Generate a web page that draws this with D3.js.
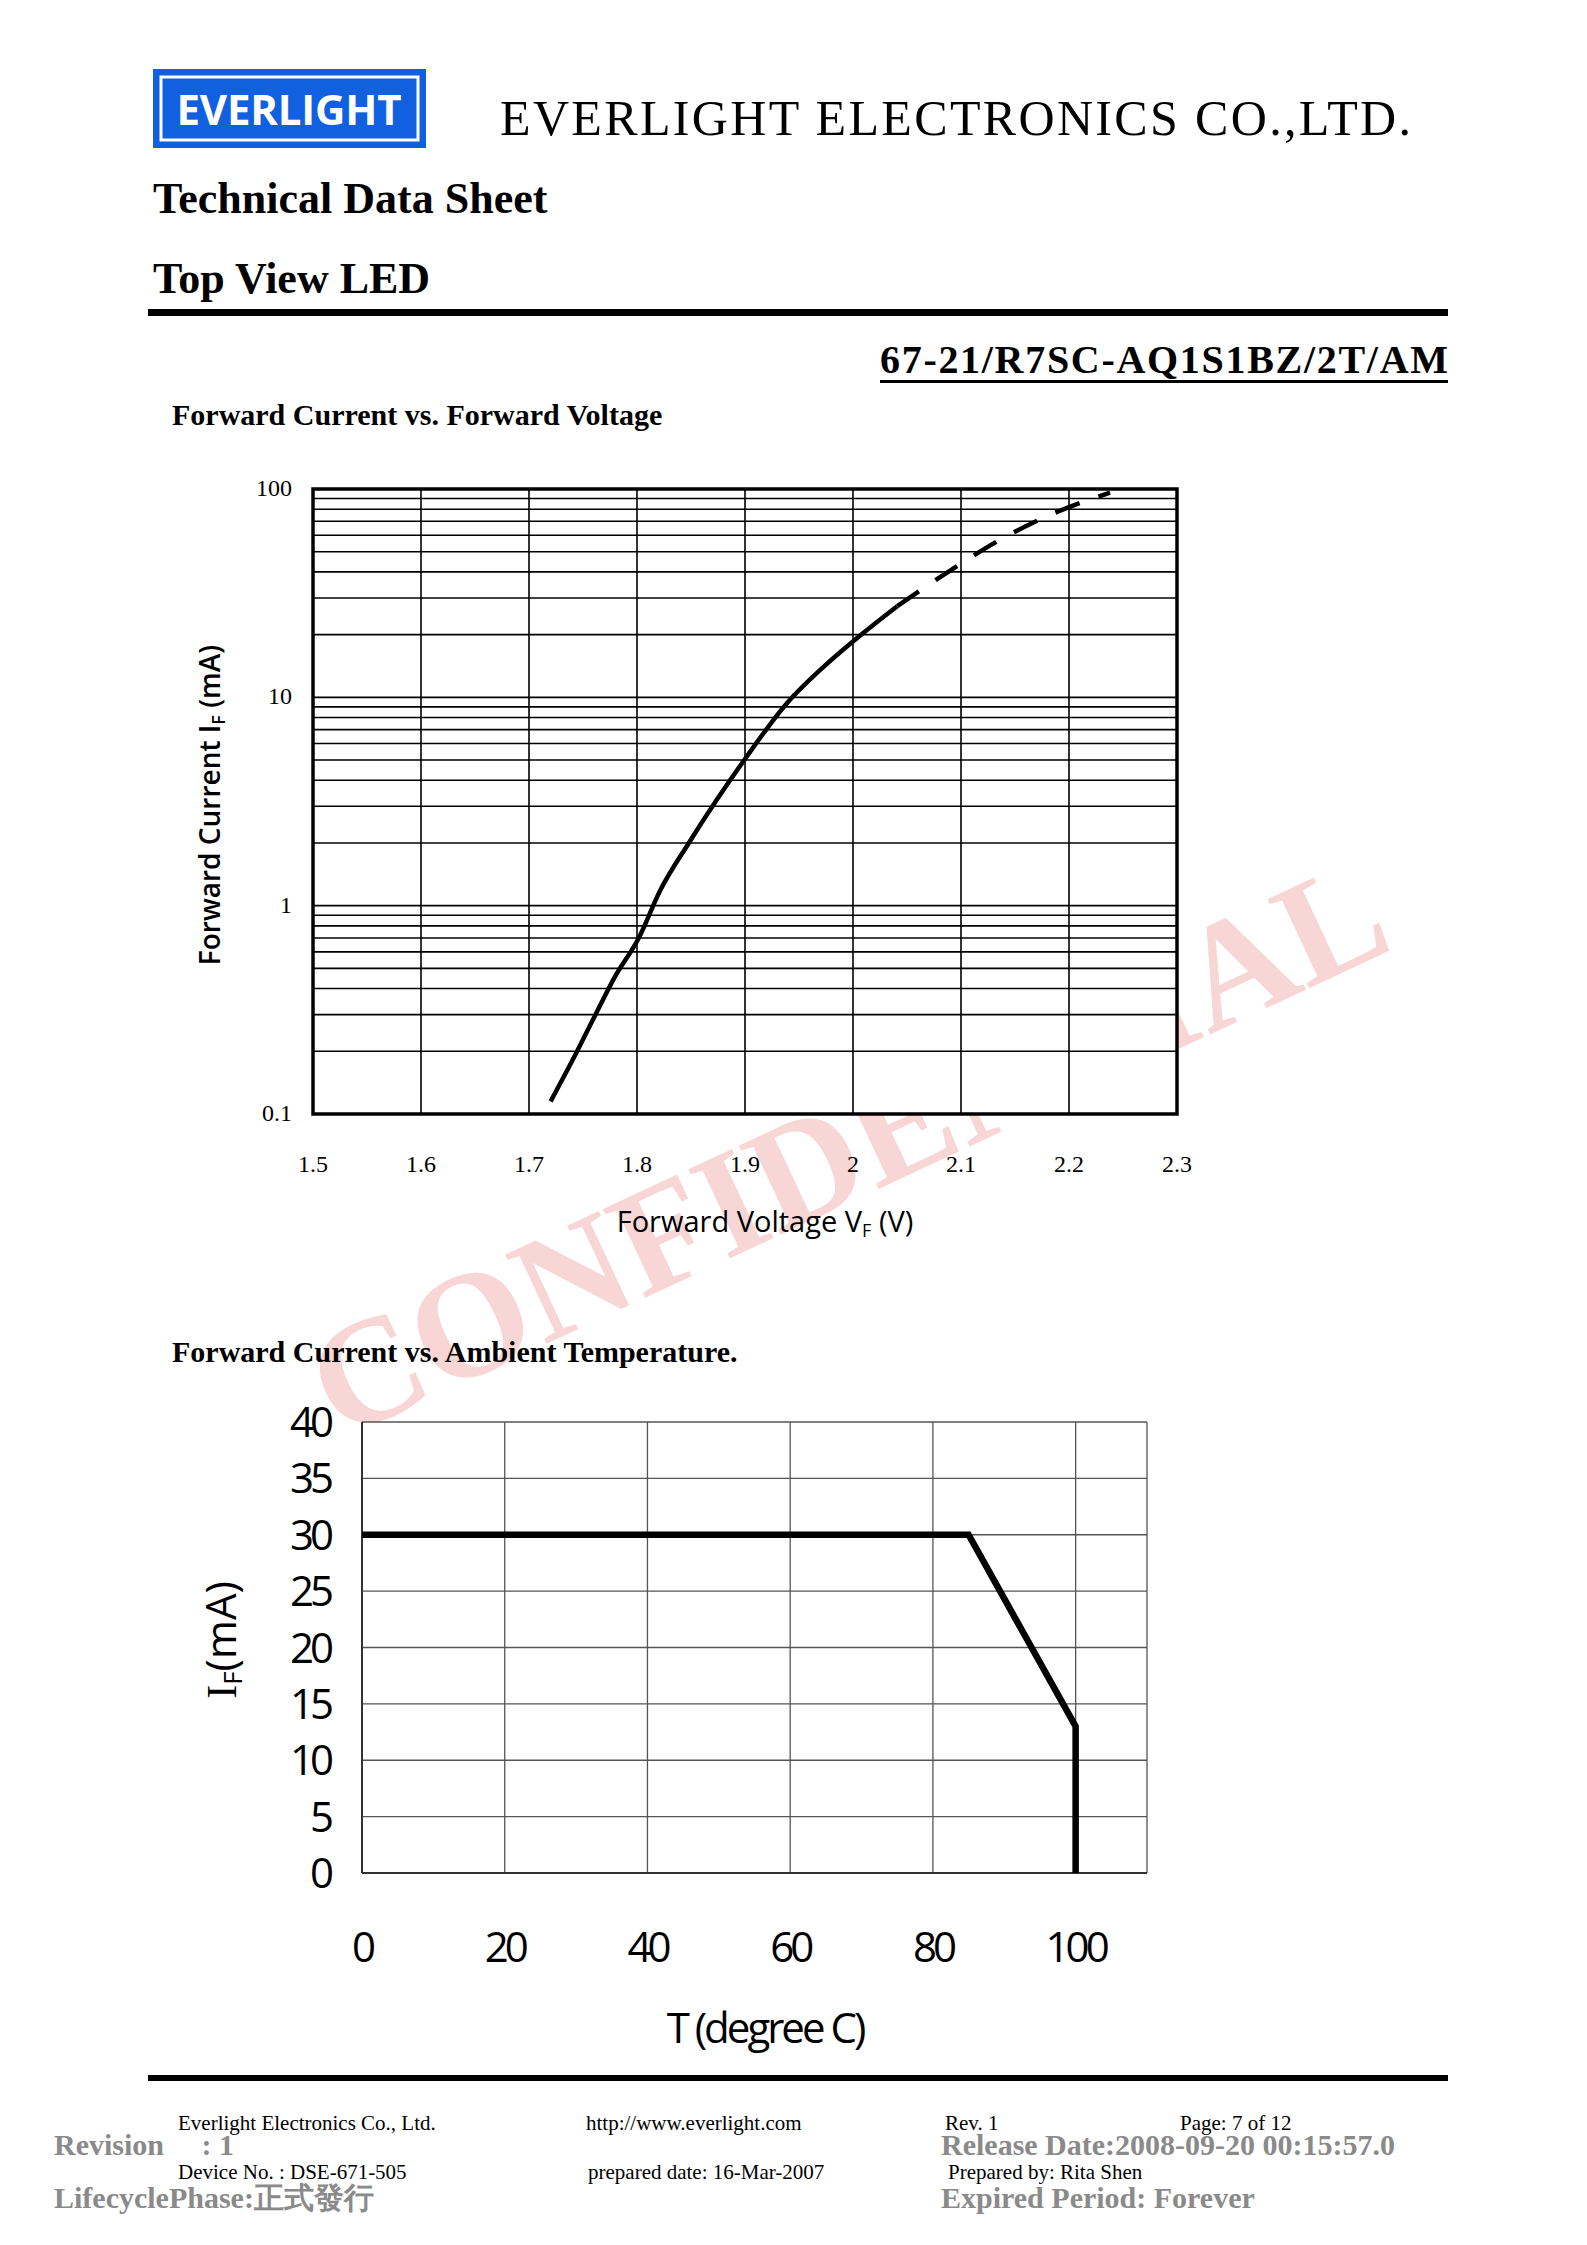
<!DOCTYPE html>
<html><head><meta charset="utf-8">
<script src="https://cdn.jsdelivr.net/npm/d3@7"></script>
<style>body{margin:0;background:#fff}</style>
</head><body>
<div id="page"></div>
<script>
// Forward current vs forward voltage (solid part then dashed extrapolation)
const vfSolid = [[1.72,0.115],[1.743,0.193],[1.762,0.303],[1.779,0.45],[1.802,0.705],[1.821,1.17],[1.848,2.0],[1.874,3.23],[1.9,5.06],[1.939,9.4],[1.972,13.9],[2.005,19.5],[2.041,27.4]];
const vfDashed = [[2.041,27.4],[2.09,40.6],[2.136,57],[2.189,77.6],[2.238,96]];
const vfTicks = [1.5,1.6,1.7,1.8,1.9,2,2.1,2.2,2.3];
const ifLogTicks = [0.1,1,10,100];
// Derating curve
const derate = [[0,30],[85,30],[100,13],[100,0]];
const tTicks = [0,20,40,60,80,100];
const ifTicks = [0,5,10,15,20,25,30,35,40];

const W = 1587, H = 2245;
const serif = "'Liberation Serif', 'Times New Roman', serif";
const sans = "'Open Sans', sans-serif";
const svg = d3.select("#page").append("svg").attr("width", W).attr("height", H);

// watermark
svg.append("text").attr("transform","translate(340,1440) rotate(-25)")
  .attr("font-family",serif).attr("font-weight","bold").attr("font-size",150)
  .attr("fill","#f9d6d6").text("CONFIDENTIAL");

// header
const logo = svg.append("g");
logo.append("rect").attr("x",153).attr("y",69).attr("width",273).attr("height",79).attr("fill","#1060e0");
logo.append("rect").attr("x",161).attr("y",77).attr("width",257).attr("height",63).attr("fill","none").attr("stroke","#fff").attr("stroke-width",3);
logo.append("text").attr("x",289).attr("y",125).attr("text-anchor","middle").attr("font-family",sans)
  .attr("font-weight","bold").attr("font-size",42).attr("fill","#fff").attr("textLength",225).text("EVERLIGHT");
svg.append("text").attr("x",500).attr("y",135).attr("font-family",serif).attr("font-size",50).attr("textLength",911).text("EVERLIGHT ELECTRONICS CO.,LTD.");
svg.append("text").attr("x",153).attr("y",213).attr("font-family",serif).attr("font-weight","bold").attr("font-size",44).text("Technical Data Sheet");
svg.append("text").attr("x",153).attr("y",293).attr("font-family",serif).attr("font-weight","bold").attr("font-size",44).text("Top View LED");
svg.append("rect").attr("x",148).attr("y",309).attr("width",1300).attr("height",7);
svg.append("text").attr("x",880).attr("y",373).attr("font-family",serif).attr("font-weight","bold").attr("font-size",40).attr("textLength",568).text("67-21/R7SC-AQ1S1BZ/2T/AM");
svg.append("rect").attr("x",880).attr("y",380).attr("width",568).attr("height",3);
svg.append("text").attr("x",172).attr("y",425).attr("font-family",serif).attr("font-weight","bold").attr("font-size",30).text("Forward Current vs. Forward Voltage");

// chart 1
{
  const x = d3.scaleLinear().domain([1.5,2.3]).range([313,1177]);
  const y = d3.scaleLog().domain([0.1,100]).range([1114,489]);
  const g = svg.append("g");
  g.append("rect").attr("x",313).attr("y",489).attr("width",864).attr("height",625).attr("fill","#fff");
  const minor = [];
  [0.1,1,10].forEach(d => { for (let k=2;k<=9;k++) minor.push(d*k); });
  g.selectAll(".hg").data(minor.concat([1,10])).join("line")
    .attr("x1",x(1.5)).attr("x2",x(2.3)).attr("y1",d=>y(d)).attr("y2",d=>y(d))
    .attr("stroke","#000").attr("stroke-width",1.6);
  g.selectAll(".vg").data(vfTicks.slice(1,-1)).join("line")
    .attr("x1",d=>x(d)).attr("x2",d=>x(d)).attr("y1",y(0.1)).attr("y2",y(100))
    .attr("stroke","#000").attr("stroke-width",1.6);
  g.append("rect").attr("x",313).attr("y",489).attr("width",864).attr("height",625).attr("fill","none").attr("stroke","#000").attr("stroke-width",3.5);
  const line = d3.line().x(d=>x(d[0])).y(d=>y(d[1])).curve(d3.curveMonotoneX);
  g.append("path").attr("d",line(vfSolid)).attr("fill","none").attr("stroke","#000").attr("stroke-width",4.5);
  g.append("path").attr("d",line(vfDashed)).attr("fill","none").attr("stroke","#000").attr("stroke-width",4.5).attr("stroke-dasharray","26,20");
  g.selectAll(".xt").data(vfTicks).join("text").attr("x",d=>x(d)).attr("y",1172).attr("text-anchor","middle")
    .attr("font-family",serif).attr("font-size",24).text(d=>d);
  g.selectAll(".yt").data(ifLogTicks).join("text").attr("x",292).attr("y",d=>y(d)+7).attr("text-anchor","end")
    .attr("font-family",serif).attr("font-size",24).text(d=>d);
  const xl = g.append("text").attr("x",765).attr("y",1232).attr("text-anchor","middle").attr("font-family",sans).attr("font-size",29);
  xl.append("tspan").text("Forward Voltage V");
  xl.append("tspan").attr("font-size",18).attr("dy",5).text("F");
  xl.append("tspan").attr("dy",-5).text(" (V)");
  const yl = g.append("text").attr("transform","translate(220,805) rotate(-90)").attr("text-anchor","middle").attr("font-family",sans).attr("font-weight",600).attr("font-size",28);
  yl.append("tspan").text("Forward Current I");
  yl.append("tspan").attr("font-size",18).attr("dy",5).text("F");
  yl.append("tspan").attr("dy",-5).text(" (mA)");
}

svg.append("text").attr("x",172).attr("y",1362).attr("font-family",serif).attr("font-weight","bold").attr("font-size",30).text("Forward Current vs. Ambient Temperature.");

// chart 2
{
  const x = d3.scaleLinear().domain([0,110]).range([362,1147]);
  const y = d3.scaleLinear().domain([0,40]).range([1873,1422]);
  const g = svg.append("g");
  g.append("rect").attr("x",362).attr("y",1422).attr("width",785).attr("height",451).attr("fill","#fff");
  g.selectAll(".hg").data(ifTicks.slice(1)).join("line").attr("x1",x(0)).attr("x2",x(110)).attr("y1",d=>y(d)).attr("y2",d=>y(d))
    .attr("stroke","#555").attr("stroke-width",1.3);
  g.selectAll(".vg").data(tTicks.slice(1).concat([110])).join("line").attr("x1",d=>x(d)).attr("x2",d=>x(d)).attr("y1",y(0)).attr("y2",y(40))
    .attr("stroke","#555").attr("stroke-width",1.3);
  g.append("line").attr("x1",x(0)).attr("x2",x(0)).attr("y1",y(0)).attr("y2",y(40)).attr("stroke","#333").attr("stroke-width",2);
  g.append("line").attr("x1",x(0)).attr("x2",x(110)).attr("y1",y(0)).attr("y2",y(0)).attr("stroke","#333").attr("stroke-width",2);
  const line = d3.line().x(d=>x(d[0])).y(d=>y(d[1]));
  g.append("path").attr("d",line(derate)).attr("fill","none").attr("stroke","#000").attr("stroke-width",6.5);
  g.selectAll(".xt").data(tTicks).join("text").attr("x",d=>x(d)).attr("y",1962).attr("text-anchor","middle")
    .attr("font-family",sans).attr("font-size",42).attr("letter-spacing",-4).text(d=>d);
  g.selectAll(".yt").data(ifTicks).join("text").attr("x",330).attr("y",d=>y(d)+15).attr("text-anchor","end")
    .attr("font-family",sans).attr("font-size",42).attr("letter-spacing",-4).text(d=>d);
  g.append("text").attr("x",765).attr("y",2043).attr("text-anchor","middle").attr("font-family",sans).attr("font-size",42).attr("letter-spacing",-3).text("T (degree C)");
  const yl = g.append("text").attr("transform","translate(236,1640) rotate(-90)").attr("text-anchor","middle").attr("font-family",sans).attr("font-size",42);
  yl.append("tspan").attr("font-family",serif).text("I");
  yl.append("tspan").attr("font-size",26).attr("dy",6).text("F");
  yl.append("tspan").attr("dy",-6).text("(mA)");
}

// footer
svg.append("rect").attr("x",148).attr("y",2075).attr("width",1300).attr("height",6);
const foot = [[178,2130,"Everlight Electronics Co., Ltd."],[586,2130,"http://www.everlight.com"],[945,2130,"Rev. 1"],[1180,2130,"Page: 7 of 12"],
  [178,2179,"Device No. : DSE-671-505"],[588,2179,"prepared date: 16-Mar-2007"],[948,2179,"Prepared by: Rita Shen"]];
svg.selectAll(".ft").data(foot).join("text").attr("x",d=>d[0]).attr("y",d=>d[1]).attr("font-family",serif).attr("font-size",21).text(d=>d[2]);
const gray = [[54,2155,"Revision     : 1"],[941,2155,"Release Date:2008-09-20 00:15:57.0"],[54,2208,"LifecyclePhase:正式發行"],[941,2208,"Expired Period: Forever"]];
svg.selectAll(".gt").data(gray).join("text").attr("x",d=>d[0]).attr("y",d=>d[1]).attr("font-family",serif).attr("font-weight","bold")
  .attr("font-size",30).attr("fill","#8a8a8a").style("white-space","pre").text(d=>d[2]);
</script>
</body></html>
